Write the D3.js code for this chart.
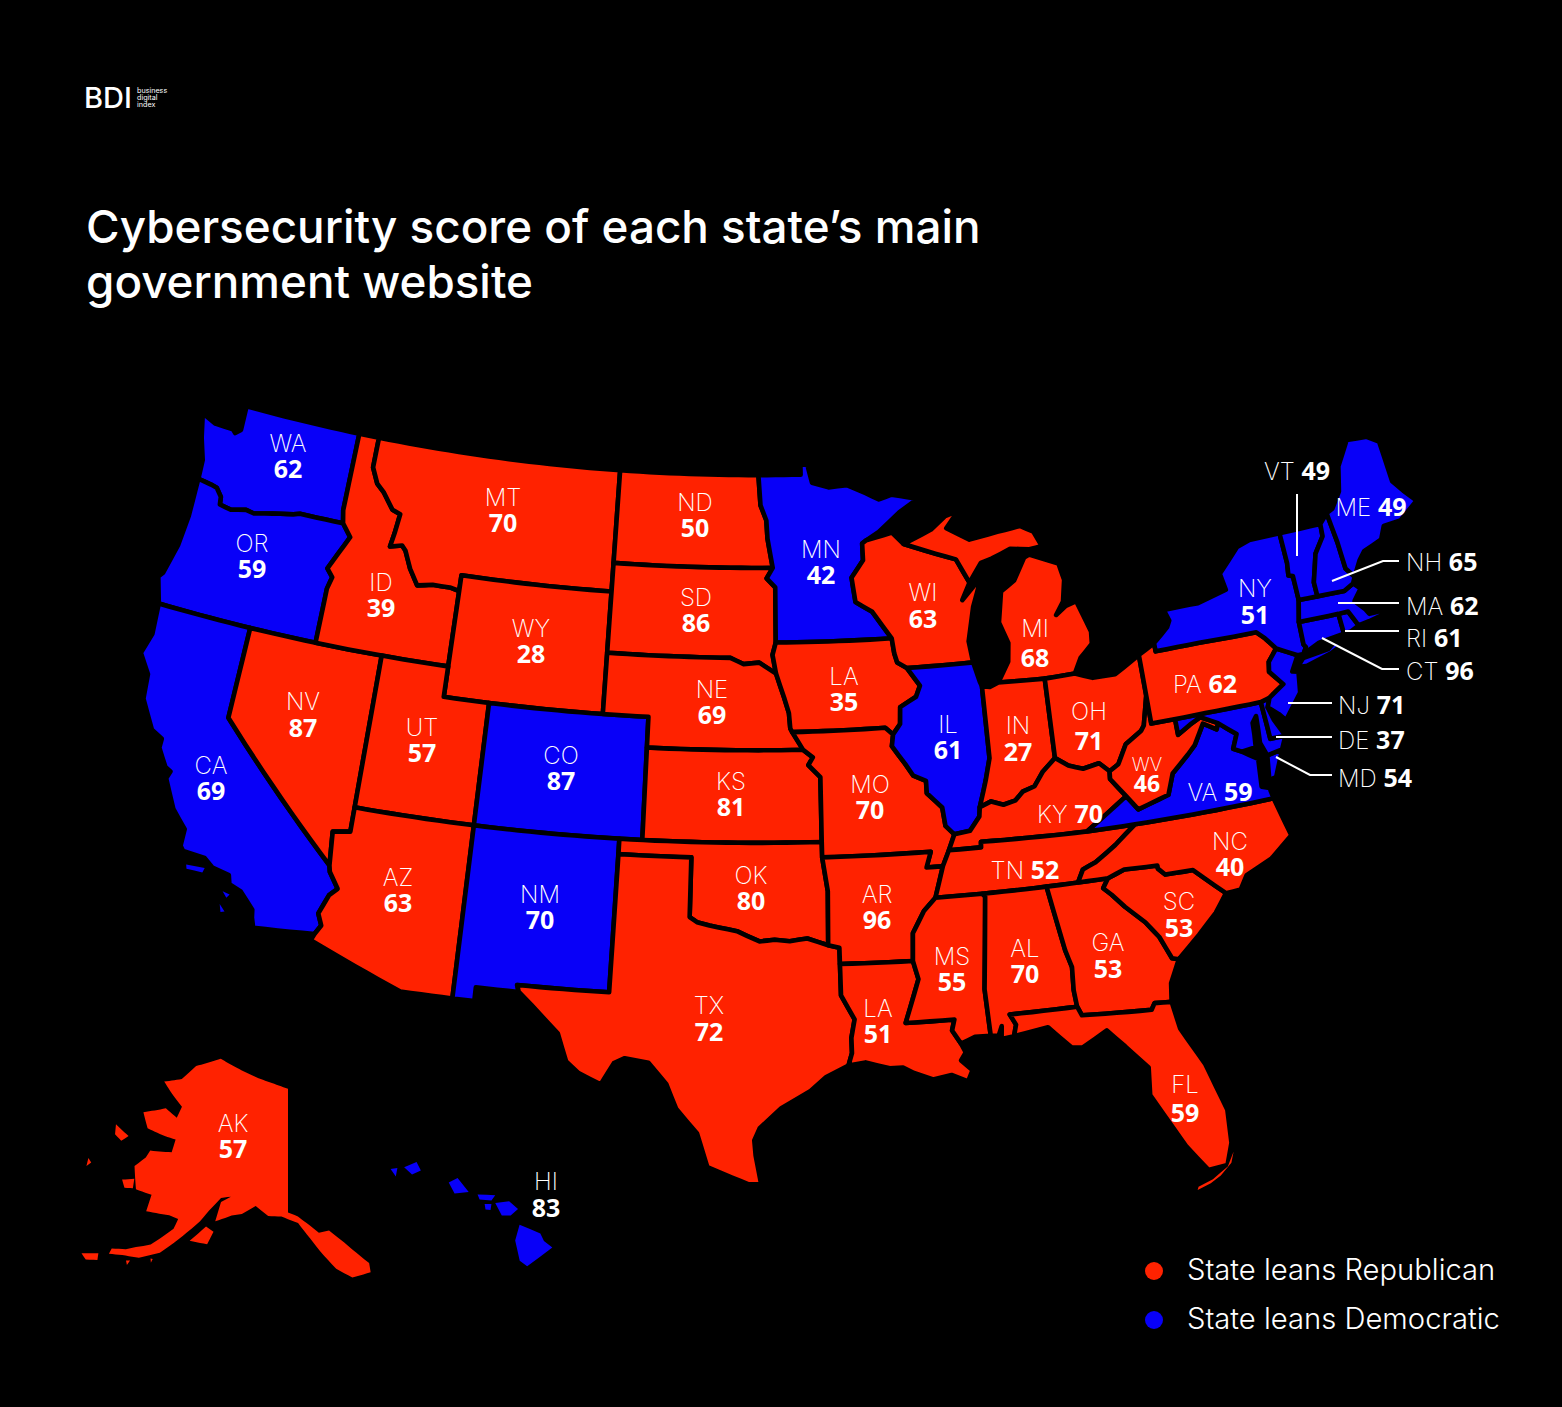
<!DOCTYPE html>
<html><head><meta charset="utf-8">
<script src="https://cdn.jsdelivr.net/npm/d3@7"></script>
<style>
html,body{margin:0;padding:0;background:#000;}
svg{display:block;}
</style></head><body>
<svg id="c" width="1562" height="1407"></svg>
<script>
// ---- values ----
const stateIds   = ["WA","OR","CA","NV","ID","MT","WY","UT","AZ","CO","NM","ND","SD","NE","KS","OK","TX","MN","IA","MO","AR","LA","WI","IL","MI","IN","OH","KY","TN","MS","AL","GA","FL","SC","NC","VA","WV","MD","DE","PA","NJ","NY","CT","RI","MA","VT","NH","ME","AK","HI"];
// the reference prints "LA" on Iowa as well, so the printed codes are kept apart from the ids
const stateCodes = ["WA","OR","CA","NV","ID","MT","WY","UT","AZ","CO","NM","ND","SD","NE","KS","OK","TX","MN","LA","MO","AR","LA","WI","IL","MI","IN","OH","KY","TN","MS","AL","GA","FL","SC","NC","VA","WV","MD","DE","PA","NJ","NY","CT","RI","MA","VT","NH","ME","AK","HI"];
const stateScores= [62,59,69,87,39,70,28,57,63,87,70,50,86,69,81,80,72,42,35,70,96,51,63,61,68,27,71,70,52,55,70,53,59,53,40,59,46,54,37,62,71,51,96,61,62,49,65,49,57,83];
const demStates  = ["WA","OR","CA","CO","NM","MN","IL","VA","MD","DE","NJ","NY","CT","RI","MA","VT","NH","ME","HI"];
const titleLines = ["Cybersecurity score of each state\u2019s main","government website"];
const legendLabels = ["State leans Republican","State leans Democratic"];
const logoLines = ["business","digital","index"];

// ---- state outlines in longitude / latitude ----
const stateRings = {
WA:[[[-124.73,48.38],[-124.45,47.6],[-124.1,46.9],[-124.05,46.27],[-123.4,46.2],[-123.1,46.15],[-122.8,45.9],[-122.75,45.65],[-122.2,45.58],[-121.5,45.7],[-121.1,45.65],[-120.6,45.74],[-119.9,45.85],[-119.3,45.93],[-119,46],[-116.92,46],[-117.04,46.42],[-117.04,49],[-122.76,49],[-122.72,48.2],[-122.95,48.05],[-123.1,48.15],[-124,48.17]]],
OR:[[[-124.05,46.27],[-124,45],[-124.1,44],[-124.4,43],[-124.56,42.84],[-124.2,42],[-117.03,42],[-117.03,43.8],[-116.9,44.2],[-117.2,44.45],[-116.85,45],[-116.46,45.6],[-116.92,46],[-119,46],[-119.3,45.93],[-119.9,45.85],[-120.6,45.74],[-121.1,45.65],[-121.5,45.7],[-122.2,45.58],[-122.75,45.65],[-122.8,45.9],[-123.1,46.15],[-123.4,46.2]]],
CA:[[[-124.2,42],[-120,42],[-120,39],[-114.63,35],[-114.57,34.8],[-114.14,34.3],[-114.43,34.05],[-114.72,33.4],[-114.52,33.03],[-114.72,32.72],[-117.12,32.53],[-117.25,32.85],[-117.3,33.1],[-117.9,33.6],[-118.4,33.75],[-118.5,34.03],[-119.2,34.15],[-119.6,34.4],[-120.5,34.45],[-120.65,34.6],[-120.65,35.15],[-121.3,35.7],[-121.9,36.6],[-121.8,36.85],[-122.05,36.95],[-122.5,37.5],[-122.5,37.8],[-123,38],[-123.7,38.9],[-123.8,39.7],[-124.35,40.3],[-124.1,41]]],
NV:[[[-120,42],[-114.04,42],[-114.04,36.2],[-114.75,36.1],[-114.63,35],[-120,39]]],
ID:[[[-117.04,49],[-116.05,49],[-116.05,48],[-115.7,47.5],[-115.3,47.25],[-114.75,46.75],[-114.35,46.65],[-114.45,46],[-114.55,45.55],[-114,45.65],[-113.8,45.5],[-113.45,44.95],[-113,44.45],[-112.3,44.55],[-111.5,44.55],[-111.05,44.48],[-111.05,42],[-117.03,42],[-117.03,43.8],[-116.9,44.2],[-117.2,44.45],[-116.85,45],[-116.46,45.6],[-116.92,46],[-117.04,46.42]]],
MT:[[[-116.05,49],[-104.05,49],[-104.05,45],[-111.05,45],[-111.05,44.48],[-111.5,44.55],[-112.3,44.55],[-113,44.45],[-113.45,44.95],[-113.8,45.5],[-114,45.65],[-114.55,45.55],[-114.45,46],[-114.35,46.65],[-114.75,46.75],[-115.3,47.25],[-115.7,47.5],[-116.05,48]]],
WY:[[[-111.05,45],[-104.05,45],[-104.05,41],[-111.05,41]]],
UT:[[[-114.04,42],[-111.05,42],[-111.05,41],[-109.05,41],[-109.05,37],[-114.04,37]]],
CO:[[[-109.05,41],[-102.05,41],[-102.05,37],[-109.05,37]]],
AZ:[[[-114.04,37],[-109.05,37],[-109.05,31.33],[-111.07,31.33],[-114.82,32.5],[-114.72,32.72],[-114.52,33.03],[-114.72,33.4],[-114.43,34.05],[-114.14,34.3],[-114.57,34.8],[-114.63,35],[-114.75,36.1],[-114.04,36.2]]],
NM:[[[-109.05,37],[-103,37],[-103.04,32],[-106.62,32],[-106.53,31.78],[-108.2,31.78],[-108.2,31.33],[-109.05,31.33]]],
ND:[[[-104.05,49],[-97.23,49],[-97.13,48],[-96.85,47.5],[-96.8,46.9],[-96.56,45.94],[-104.05,45.94]]],
SD:[[[-104.05,45.94],[-96.56,45.94],[-96.85,45.6],[-96.45,45.3],[-96.45,43.5],[-96.6,43.1],[-96.45,42.49],[-97.2,42.85],[-97.9,42.8],[-98.5,43],[-104.05,43]]],
NE:[[[-104.05,43],[-98.5,43],[-97.9,42.8],[-97.2,42.85],[-96.45,42.49],[-96.1,41.7],[-95.9,41.2],[-95.85,40.7],[-95.31,40],[-102.05,40],[-102.05,41],[-104.05,41]]],
KS:[[[-102.05,40],[-95.31,40],[-94.9,39.75],[-95.1,39.5],[-94.6,39.1],[-94.62,37],[-102.05,37]]],
OK:[[[-103,37],[-94.62,37],[-94.62,36.5],[-94.43,35.4],[-94.48,33.64],[-95.3,33.88],[-96,33.8],[-96.6,33.85],[-97.2,33.8],[-97.7,33.98],[-98.1,34.13],[-99.2,34.3],[-99.7,34.4],[-100,34.56],[-100,36.5],[-103,36.5]]],
TX:[[[-103,36.5],[-100,36.5],[-100,34.56],[-99.7,34.4],[-99.2,34.3],[-98.1,34.13],[-97.7,33.98],[-97.2,33.8],[-96.6,33.85],[-96,33.8],[-95.3,33.88],[-94.48,33.64],[-94.04,33.55],[-94.04,33.02],[-94.04,32],[-93.55,31.2],[-93.7,30.6],[-93.7,30.1],[-93.85,29.7],[-94.7,29.35],[-95.3,28.9],[-96.4,28.35],[-97.2,27.7],[-97.4,27.3],[-97.35,26.8],[-97.15,25.85],[-97.6,25.85],[-98.2,26.07],[-99.1,26.4],[-99.5,27.5],[-100.3,28.3],[-100.7,29.1],[-101.4,29.77],[-102.3,29.88],[-102.7,29.7],[-103.15,28.98],[-104,29.3],[-104.5,29.65],[-104.9,30.55],[-106,31.4],[-106.53,31.78],[-106.62,32],[-103.04,32]]],
MN:[[[-97.23,49],[-95.15,49],[-95.15,49.38],[-94.8,49.3],[-94.6,48.72],[-93.8,48.55],[-92.9,48.6],[-92,48.3],[-91.4,48.07],[-90.8,48.2],[-89.6,48],[-90.5,47.6],[-91.5,47],[-92.1,46.75],[-92.3,46.65],[-92.3,46.1],[-92.88,45.55],[-92.75,44.75],[-92,44.4],[-91.22,43.5],[-96.45,43.5],[-96.45,45.3],[-96.85,45.6],[-96.56,45.94],[-96.8,46.9],[-96.85,47.5],[-97.13,48]]],
IA:[[[-96.45,43.5],[-91.22,43.5],[-91.15,43],[-91.05,42.7],[-90.65,42.5],[-90.15,41.9],[-90.35,41.55],[-91.05,41.25],[-91.1,40.7],[-91.42,40.38],[-91.73,40.61],[-95.77,40.58],[-95.85,40.7],[-95.9,41.2],[-96.1,41.7],[-96.45,42.49],[-96.6,43.1]]],
MO:[[[-95.77,40.58],[-91.73,40.61],[-91.42,40.38],[-91.5,40],[-91,39.4],[-90.7,39],[-90.2,38.8],[-90.2,38.4],[-89.6,37.9],[-89.5,37.3],[-89.15,37],[-89.4,36.5],[-89.7,36],[-90.37,36],[-90.15,36.5],[-94.62,36.5],[-94.62,37],[-94.6,39.1],[-95.1,39.5],[-94.9,39.75],[-95.31,40]]],
AR:[[[-94.62,36.5],[-90.15,36.5],[-90.37,36],[-89.7,36],[-90.1,35],[-90.6,34.6],[-91.1,33.9],[-91.17,33],[-94.04,33.02],[-94.04,33.55],[-94.48,33.64],[-94.43,35.4]]],
LA:[[[-94.04,33.02],[-91.17,33],[-91,32.4],[-91.6,31],[-89.73,31],[-89.85,30.65],[-89.55,30.2],[-89.4,29.9],[-89.6,29.65],[-89.2,29.3],[-89.4,28.95],[-90,29.2],[-90.7,29.1],[-91.4,29.35],[-91.8,29.55],[-92.3,29.55],[-93.2,29.78],[-93.85,29.7],[-93.7,30.1],[-93.7,30.6],[-93.55,31.2],[-94.04,32]]],
WI:[[[-92.1,46.75],[-90.9,46.95],[-90.4,46.55],[-89,46.15],[-88.1,45.9],[-87.6,45.1],[-88,44.55],[-87.05,45.25],[-87.55,44.3],[-87.9,43.2],[-87.8,42.5],[-90.65,42.5],[-91.05,42.7],[-91.15,43],[-91.22,43.5],[-92,44.4],[-92.75,44.75],[-92.88,45.55],[-92.3,46.1],[-92.3,46.65]]],
IL:[[[-90.65,42.5],[-87.8,42.5],[-87.6,41.85],[-87.53,41.7],[-87.53,39.35],[-87.9,38.3],[-88.07,37.8],[-88.1,37.5],[-88.5,37.07],[-89.15,37],[-89.5,37.3],[-89.6,37.9],[-90.2,38.4],[-90.2,38.8],[-90.7,39],[-91,39.4],[-91.5,40],[-91.42,40.38],[-91.1,40.7],[-91.05,41.25],[-90.35,41.55],[-90.15,41.9]]],
MI:[[[-86.82,41.76],[-86.3,42.4],[-86.2,43],[-86.5,43.7],[-86.25,44.7],[-85.6,45],[-85,45.7],[-84.75,45.78],[-83.45,45.35],[-83.3,44.8],[-83.5,44.1],[-83.9,43.7],[-83.4,43.95],[-82.9,44.05],[-82.45,43],[-82.5,42.6],[-83.1,42.2],[-83.45,41.73],[-84.8,41.7]],
    [[-90.4,46.55],[-89.1,46.95],[-88.4,47.35],[-87.8,47.47],[-88.4,46.95],[-87.4,46.5],[-86.1,46.65],[-85,46.75],[-84.4,46.5],[-84.1,46],[-84.7,45.95],[-85.6,46.05],[-86.5,45.8],[-87,45.7],[-87.6,45.1],[-88.1,45.9],[-89,46.15]]],
IN:[[[-87.53,41.7],[-87.2,41.65],[-86.82,41.76],[-84.8,41.7],[-84.82,39.1],[-85.4,38.72],[-85.8,38.28],[-86.3,38.15],[-86.6,37.9],[-87.1,37.8],[-87.6,37.95],[-88.07,37.8],[-87.9,38.3],[-87.53,39.35]]],
OH:[[[-84.8,41.7],[-83.45,41.73],[-82.7,41.5],[-81.7,41.5],[-80.52,41.98],[-80.52,40.64],[-80.85,39.7],[-81,39.55],[-81.75,39.2],[-82.2,38.6],[-82.6,38.42],[-83,38.73],[-83.7,38.63],[-84.3,38.8],[-84.82,39.1]]],
KY:[[[-89.4,36.5],[-89.15,37],[-88.5,37.07],[-88.1,37.5],[-88.07,37.8],[-87.6,37.95],[-87.1,37.8],[-86.6,37.9],[-86.3,38.15],[-85.8,38.28],[-85.4,38.72],[-84.82,39.1],[-84.3,38.8],[-83.7,38.63],[-83,38.73],[-82.6,38.42],[-82.6,38.17],[-81.97,37.54],[-83.68,36.6],[-88.07,36.68],[-88.07,36.5]]],
TN:[[[-89.7,36],[-89.4,36.5],[-88.07,36.5],[-88.07,36.68],[-83.68,36.6],[-81.68,36.59],[-82.6,36.03],[-83.5,35.57],[-84.05,35.4],[-84.32,35],[-85.6,35],[-88.2,35],[-90.1,35]]],
MS:[[[-90.1,35],[-88.2,35],[-88.1,34.9],[-88.47,31.9],[-88.4,30.37],[-89,30.38],[-89.55,30.2],[-89.85,30.65],[-89.73,31],[-91.6,31],[-91,32.4],[-91.17,33],[-91.1,33.9],[-90.6,34.6]]],
AL:[[[-88.2,35],[-85.6,35],[-85.18,32.87],[-85,32.3],[-85.05,31.55],[-85,31],[-87.6,31],[-87.4,30.65],[-87.52,30.28],[-88,30.23],[-87.95,30.65],[-88.1,30.35],[-88.4,30.37],[-88.47,31.9],[-88.1,34.9]]],
GA:[[[-85.6,35],[-83.1,35],[-83.35,34.7],[-83.05,34.45],[-82.6,34],[-81.9,33.4],[-81.45,32.85],[-81.1,32.1],[-80.85,32.03],[-81.3,31.3],[-81.4,30.7],[-82.05,30.75],[-82.2,30.55],[-84.86,30.7],[-85,31],[-85.05,31.55],[-85,32.3],[-85.18,32.87]]],
FL:[[[-87.6,31],[-85,31],[-84.86,30.7],[-82.2,30.55],[-82.05,30.75],[-81.4,30.7],[-81.25,29.8],[-80.55,28.5],[-80.05,26.9],[-80.12,25.8],[-80.4,25.1],[-81.1,25.05],[-81.75,25.95],[-82.1,26.6],[-82.75,27.8],[-82.65,28.7],[-83.4,29.5],[-84,30.1],[-85,29.65],[-85.4,29.7],[-86.2,30.45],[-87.52,30.28],[-87.4,30.65]]],
SC:[[[-83.1,35],[-82.4,35.2],[-81.05,35.15],[-81.05,35.05],[-80.8,34.82],[-79.67,34.8],[-78.55,33.86],[-79.1,33.3],[-79.9,32.7],[-80.85,32.03],[-81.1,32.1],[-81.45,32.85],[-81.9,33.4],[-82.6,34],[-83.05,34.45],[-83.35,34.7]]],
NC:[[[-81.68,36.59],[-75.87,36.55],[-75.5,35.25],[-76.5,34.65],[-77.6,34.3],[-77.95,33.88],[-78.55,33.86],[-79.67,34.8],[-80.8,34.82],[-81.05,35.05],[-81.05,35.15],[-82.4,35.2],[-83.1,35],[-84.32,35],[-84.05,35.4],[-83.5,35.57],[-82.6,36.03]]],
VA:[[[-83.68,36.6],[-81.97,37.54],[-81.5,37.05],[-80.2,37.35],[-79.95,38],[-78.87,38.77],[-78.35,39.4],[-77.83,39.13],[-77.72,39.32],[-77.05,38.85],[-77.3,38.4],[-76.95,38.25],[-76.3,37.9],[-76.3,37],[-75.98,36.9],[-75.87,36.55],[-81.68,36.59]],
    [[-75.95,37.15],[-75.65,37.2],[-75.25,38.03],[-75.9,37.95]]],
WV:[[[-82.6,38.17],[-82.6,38.42],[-82.2,38.6],[-81.75,39.2],[-81,39.55],[-80.85,39.7],[-80.52,40.64],[-80.52,39.72],[-79.48,39.72],[-79.48,39.2],[-78.9,39.45],[-78.4,39.62],[-77.72,39.32],[-77.83,39.13],[-78.35,39.4],[-78.87,38.77],[-79.95,38],[-80.2,37.35],[-81.5,37.05],[-81.97,37.54]]],
MD:[[[-79.48,39.72],[-75.79,39.72],[-75.7,38.46],[-75.05,38.45],[-75.25,38.03],[-75.9,37.95],[-76.15,38.4],[-76.1,39.3],[-76.3,39.1],[-76.35,38.3],[-76.95,38.25],[-77.3,38.4],[-77.05,38.85],[-77.72,39.32],[-78.4,39.62],[-78.9,39.45],[-79.48,39.2]]],
DE:[[[-75.79,39.72],[-75.4,39.8],[-75.55,39.5],[-75.4,39.05],[-75.05,38.45],[-75.7,38.46]]],
PA:[[[-80.52,41.98],[-79.76,42.27],[-79.76,42],[-75.35,42],[-75.05,41.75],[-74.7,41.36],[-75.13,40.98],[-75.2,40.65],[-74.72,40.15],[-75.4,39.8],[-75.79,39.72],[-80.52,39.72]]],
NJ:[[[-74.7,41.36],[-73.9,41],[-74.25,40.5],[-74,40.45],[-74.1,39.75],[-74.9,38.95],[-75.15,39.2],[-75.55,39.5],[-75.4,39.8],[-74.72,40.15],[-75.2,40.65],[-75.13,40.98]]],
NY:[[[-79.76,42.27],[-79.05,42.7],[-78.9,42.9],[-79.05,43.27],[-77.5,43.28],[-76.2,43.55],[-76.3,44.1],[-75.3,44.85],[-74.7,45],[-73.34,45.01],[-73.35,44],[-73.43,43.6],[-73.25,43.55],[-73.27,42.75],[-73.5,42.05],[-73.55,41.3],[-73.48,41.2],[-73.65,41],[-73.9,41],[-74.7,41.36],[-75.05,41.75],[-75.35,42],[-79.76,42]],
    [[-74,40.6],[-73.7,40.87],[-72.6,40.98],[-72.3,41.15],[-71.87,41.07],[-72.5,40.82],[-73.6,40.58]]],
CT:[[[-73.5,42.05],[-71.8,42.02],[-71.8,41.35],[-72.9,41.25],[-73.65,41],[-73.48,41.2],[-73.55,41.3]]],
RI:[[[-71.8,42.02],[-71.38,42.02],[-71.12,41.5],[-71.5,41.37],[-71.8,41.35]]],
MA:[[[-73.27,42.75],[-71.3,42.7],[-70.85,42.87],[-70.6,42.65],[-71,42.3],[-70.65,41.95],[-70.55,41.78],[-70,41.78],[-70.2,42.07],[-69.95,41.9],[-69.98,41.65],[-70.65,41.55],[-71.12,41.5],[-71.38,42.02],[-71.8,42.02],[-73.5,42.05]]],
VT:[[[-73.34,45.01],[-71.5,45.01],[-71.55,44.6],[-72.05,44.1],[-72.45,43.2],[-72.46,42.73],[-73.27,42.75],[-73.25,43.55],[-73.43,43.6],[-73.35,44]]],
NH:[[[-71.5,45.01],[-71.1,45.3],[-71,44.3],[-70.98,43.4],[-70.7,43.07],[-70.85,42.87],[-71.3,42.7],[-72.46,42.73],[-72.45,43.2],[-72.05,44.1],[-71.55,44.6]]],
ME:[[[-71.1,45.3],[-70.8,45.4],[-70.3,45.9],[-70,46.7],[-69.25,47.45],[-68.3,47.35],[-67.8,47.07],[-67.8,45.7],[-67.45,45.3],[-67,44.85],[-68,44.4],[-68.8,44.4],[-69.1,44],[-70,43.8],[-70.3,43.55],[-70.7,43.07],[-70.98,43.4],[-71,44.3]]],
AK:[[[-141,69.65],[-141,60.3],[-139.5,60],[-137.8,59.3],[-136.5,58.7],[-135,58.8],[-133,57.8],[-130,56],[-130,55.3],[-132.5,55.1],[-134.5,55.9],[-136.5,57.3],[-137.8,58.3],[-139.5,59.5],[-142,60],[-144,60],[-146,60.7],[-148,60],[-149.5,59.8],[-151.8,59.2],[-151.4,60.7],[-150,61.2],[-151.5,61],[-153,59.9],[-154,59],[-156.5,57.3],[-158.5,56],[-161,55.2],[-163.2,55],[-164.9,54.75],[-164.8,55.2],[-163,55.5],[-161.8,55.9],[-160,56.4],[-157.5,58],[-157.2,58.8],[-158.6,58.9],[-162,58.7],[-162,60],[-164.5,60],[-166,61.6],[-164.8,62.5],[-164.5,63.1],[-161,63.5],[-161,64.5],[-163,64.5],[-166.3,64.6],[-168.1,65.6],[-164.5,66.5],[-162,66.1],[-161.7,67],[-164,67.6],[-166.7,68.35],[-163.5,69],[-161.5,70.3],[-156.6,71.35],[-152.5,70.9],[-148,70.4],[-144,70]],
    [[-154.9,57.4],[-152.4,57.4],[-151.8,58.4],[-153,58.7]],[[-167,60.3],[-165.3,60.7],[-165,60],[-166.2,59.8]],[[-171.6,63.9],[-168.8,63.5],[-169.6,62.95],[-171,63.2]],[[-173.1,60.7],[-172.4,60.5],[-172.8,60.1]],[[-168.2,54],[-166.2,54.5],[-166,54],[-167.4,53.7]],[[-162.5,54.7],[-162,54.8],[-162.2,54.4]],[[-159.5,55.4],[-159.2,55.4],[-159.3,55.1]]],
HI:[[[-155.9,20.25],[-155.2,19.97],[-155.08,19.73],[-154.8,19.52],[-155.65,18.92],[-155.9,19.1],[-156.05,19.75]],[[-156.72,20.95],[-156.25,21],[-155.95,20.75],[-156.2,20.55],[-156.5,20.55]],[[-157.32,21.22],[-156.72,21.2],[-156.85,21.03],[-157.25,21.06]],[[-157.08,20.92],[-156.85,20.92],[-156.88,20.72],[-157.05,20.74]],[[-158.3,21.6],[-158,21.75],[-157.62,21.3],[-158.1,21.25]],[[-159.82,22.08],[-159.4,22.25],[-159.25,21.98],[-159.55,21.85]],[[-160.28,22.02],[-160.05,22.05],[-160.1,21.78]]]
};
// small islands, filled without the black state outline so that they survive
const islandStates = ["CA","FL"];
const islandRings = [
 [[[-120.25,34.05],[-119.5,34.08],[-119.55,33.92],[-120.2,33.92]],[[-118.6,33.48],[-118.3,33.42],[-118.4,33.3]],[[-118.6,33.05],[-118.35,32.85],[-118.5,32.8]]],
 [[[-80.1,25.5],[-80.25,25.15],[-80.7,24.8],[-81.1,24.6],[-81.6,24.45],[-81.55,24.55],[-81,24.72],[-80.4,25.05]]]
];

// ---- colours, type, layout ----
const RED="#ff2200", BLUE="#0800f8";
const SANS="Inter, 'Noto Sans', sans-serif", NUM="'Noto Sans', 'Open Sans', sans-serif";

// label placement: [x, code y, score y] stacked; [x, y] inline (centred); anchor "start" for callouts
const stacked = {WA:[288,452,478],OR:[252,552,578],CA:[211,774,800],NV:[303,710,737],ID:[381,591,617],MT:[503,506,532],WY:[531,637,663],UT:[422,736,762],AZ:[398,886,912],CO:[561,764,790],NM:[540,903,929],ND:[695,511,537],SD:[696,606,632],NE:[712,698,724],KS:[731,790,816],OK:[751,884,910],TX:[709,1014,1041],MN:[821,558,584],IA:[844,685,711],MO:[870,793,819],AR:[877,903,929],LA:[878,1017,1043],WI:[923,601,628],IL:[948,733,759],MI:[1035,637,667],IN:[1018,734,761],OH:[1089,720,750],MS:[952,965,991],AL:[1025,957,983],GA:[1108,951,978],SC:[1179,910,937],FL:[1185,1093,1122],NC:[1230,850,876],WV:[1147,771,792],NY:[1255,597,624],AK:[233,1132,1158],HI:[546,1190,1217]};
const inlineMid = {TN:[1025,879],KY:[1070,823],VA:[1220,801],PA:[1205,693],ME:[1371,516],VT:[1297,480]};
const inlineStart = {NH:[1406,571],MA:[1406,615],RI:[1406,647],CT:[1406,680],NJ:[1338,714],DE:[1338,749],MD:[1338,787]};
const leaderLines = [[[1297,494],[1297,556]],[[1332,581],[1383,561],[1399,561]],[[1338,603],[1399,603]],[[1345,631],[1399,631]],[[1322,638],[1382,669],[1399,669]],[[1288,703],[1332,703]],[[1276,737],[1332,737]],[[1276,757],[1310,775],[1332,775]]];

// the reference stretches the north-east slightly; a smooth nudge keeps shared borders shared
const unit=v=>Math.min(1,Math.max(0,v));
function northEastNudge([lon,lat]){
  const far=unit((lon+78)/8)*unit((lat-38)/3);
  const near=unit((lon+92)/6)*unit((lat-36.5)/2);
  return [lon+0.25*near+0.4*far,lat-0.25*far];
}
// straight lon/lat edges, so parallels stay curved under the conic projection
function dense(ring,nudge){
  const out=[]; const n=ring.length;
  for(let i=0;i<n;i++){
    const a=ring[i], b=ring[(i+1)%n];
    const k=Math.max(1,Math.ceil(Math.max(Math.abs(a[0]-b[0]),Math.abs(a[1]-b[1]))/0.5));
    for(let j=0;j<k;j++){
      const p=[a[0]+(b[0]-a[0])*j/k,a[1]+(b[1]-a[1])*j/k];
      out.push(nudge?northEastNudge(p):p);
    }
  }
  out.push(out[0]);
  if(d3.geoArea({type:"Polygon",coordinates:[out]})>2*Math.PI) out.reverse();
  return out;
}
const multi=(rings,nudge)=>({type:"MultiPolygon",coordinates:rings.map(r=>[dense(r,nudge)])});

const mainProj=d3.geoAlbers().parallels([29.5,45.5]).rotate([97.3,0]).center([0,38]).scale(1750).translate([757,812]);
const akProj=d3.geoConicEqualArea().parallels([55,65]).rotate([141,0]).center([0,65]).scale(760).translate([288,1150]);
const hiProj=d3.geoConicEqualArea().parallels([8,18]).rotate([157,0]).center([0,20.5]).scale(1800).translate([487,1217]);
const projFor=id=>id==="AK"?akProj:id==="HI"?hiProj:mainProj;
const colorOf=id=>demStates.includes(id)?BLUE:RED;

const svg=d3.select("#c");
svg.append("rect").attr("width",1562).attr("height",1407).attr("fill","#000");

// states
svg.append("g").selectAll("path").data(stateIds).join("path")
  .attr("d",id=>d3.geoPath(projFor(id))(multi(stateRings[id],id!=="AK"&&id!=="HI")))
  .attr("fill",colorOf)
  .attr("stroke",id=>(id==="AK"||id==="HI")?"none":"#000")
  .attr("stroke-width",4.6).attr("stroke-linejoin","round");
svg.append("g").selectAll("path").data(islandStates).join("path")
  .attr("d",(id,i)=>d3.geoPath(mainProj)(multi(islandRings[i],false)))
  .attr("fill",colorOf);

// leaders
const lineGen=d3.line();
svg.append("g").selectAll("path").data(leaderLines).join("path")
  .attr("d",lineGen).attr("fill","none").attr("stroke","#fff").attr("stroke-width",2);

// labels
const code=id=>stateCodes[stateIds.indexOf(id)], score=id=>stateScores[stateIds.indexOf(id)];
const labels=svg.append("g").attr("fill","#fff");
Object.entries(stacked).forEach(([id,[x,y1,y2]])=>{
  const small=id==="WV";
  labels.append("text").attr("x",x).attr("y",y1).attr("text-anchor","middle")
    .attr("font-family",SANS).attr("font-weight",200).attr("font-size",small?19:24).text(code(id));
  labels.append("text").attr("x",x).attr("y",y2).attr("text-anchor","middle")
    .attr("font-family",NUM).attr("font-weight",700).attr("font-size",small?23:25).text(score(id));
});
function inline(id,x,y,anchor){
  const t=labels.append("text").attr("x",x).attr("y",y).attr("text-anchor",anchor).attr("font-size",24);
  t.append("tspan").attr("font-family",SANS).attr("font-weight",200).text(code(id)+" ");
  t.append("tspan").attr("font-family",NUM).attr("font-weight",700).attr("font-size",25).text(score(id));
}
Object.entries(inlineMid).forEach(([id,[x,y]])=>inline(id,x,y,"middle"));
Object.entries(inlineStart).forEach(([id,[x,y]])=>inline(id,x,y,"start"));

// title
svg.append("g").selectAll("text").data(titleLines).join("text")
  .attr("x",86).attr("y",(d,i)=>243+i*55).attr("fill","#fff")
  .attr("font-family",SANS).attr("font-weight",500).attr("font-size",45.8).text(d=>d);

// logo
svg.append("text").attr("x",84).attr("y",108).attr("fill","#fff").attr("font-family",SANS)
  .attr("font-weight",500).attr("font-size",29).text("BDI");
svg.append("g").selectAll("text").data(logoLines).join("text")
  .attr("x",137).attr("y",(d,i)=>93+i*6.8).attr("fill","#fff").attr("font-family",SANS)
  .attr("font-size",7.2).text(d=>d);

// legend
const legend=svg.append("g").selectAll("g").data(legendLabels).join("g")
  .attr("transform",(d,i)=>`translate(0,${1271+i*49})`);
legend.append("circle").attr("cx",1154).attr("r",9).attr("fill",(d,i)=>i?BLUE:RED);
legend.append("text").attr("x",1187).attr("y",9).attr("fill","#fff").attr("font-family",SANS)
  .attr("font-weight",300).attr("font-size",29.2).text(d=>d);
</script>
</body></html>
